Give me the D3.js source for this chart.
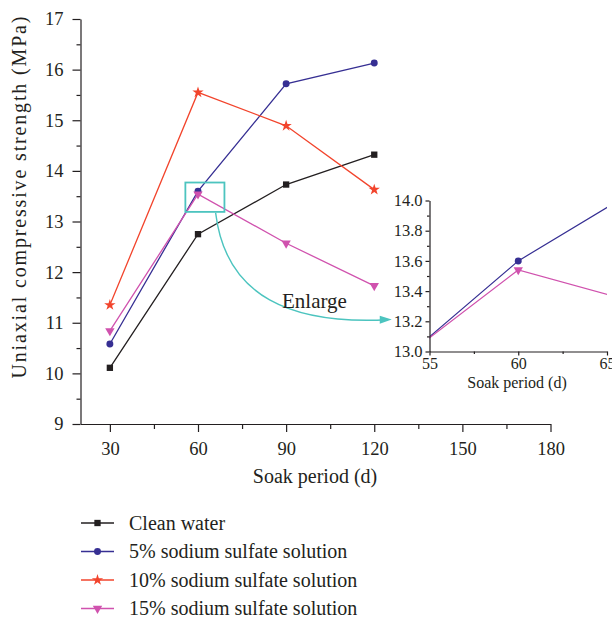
<!DOCTYPE html>
<html>
<head>
<meta charset="utf-8">
<script src="https://cdn.jsdelivr.net/npm/d3@7"></script>
<style>
  html, body { margin: 0; padding: 0; background: #fff; }
  svg { display: block; font-family: "Liberation Serif", "Times New Roman", serif; }
</style>
</head>
<body>
<svg id="chart" width="612" height="619"></svg>
<script>
// Soak periods (days) and strength values (MPa) per solution
const soakDays = [30, 60, 90, 120];
const cleanWater = [10.11, 12.75, 13.73, 14.32];
const sulfate5 = [10.58, 13.60, 15.72, 16.13];
const sulfate10 = [11.35, 15.55, 14.89, 13.63];
const sulfate15 = [10.84, 13.54, 12.57, 11.73];

const seriesNames = ["Clean water", "5% sodium sulfate solution", "10% sodium sulfate solution", "15% sodium sulfate solution"];
const seriesColors = ["#231f20", "#362f93", "#f2442c", "#d052ae"];

const xMajorTicks = [30, 60, 90, 120, 150, 180];
const xMinorTicks = [45, 75, 105, 135, 165];
const yMajorTicks = [9, 10, 11, 12, 13, 14, 15, 16, 17];
const yMinorTicks = [9.5, 10.5, 11.5, 12.5, 13.5, 14.5, 15.5, 16.5];

const insetXMajor = [55, 60, 65];
const insetXMinor = [57.5, 62.5];
const insetYMajor = [13.0, 13.2, 13.4, 13.6, 13.8, 14.0];
const insetYMinor = [13.1, 13.3, 13.5, 13.7, 13.9];

const seriesValues = [cleanWater, sulfate5, sulfate10, sulfate15];
const series = seriesNames.map((name, i) => ({
  name, color: seriesColors[i],
  points: soakDays.map((d, j) => ({ x: d, y: seriesValues[i][j] }))
}));

const ink = "#231f20";
const svg = d3.select("#chart");

// Main scales
const x = d3.scaleLinear().domain([20, 180]).range([80.5, 550.5]);
const y = d3.scaleLinear().domain([9, 17]).range([424, 19]);

// Marker shapes
const symbolFor = [
  d3.symbol().type(d3.symbolSquare).size(40),
  d3.symbol().type(d3.symbolCircle).size(38),
  d3.symbol().type(d3.symbolStar).size(40),
  d3.symbol().type(d3.symbolTriangle).size(38)
];
const rot = i => (i === 3 ? " rotate(180)" : "");

function styleAxis(g, fontSize) {
  g.select(".domain").attr("stroke", ink).attr("stroke-width", 1.2);
  g.selectAll(".tick line").attr("stroke", ink).attr("stroke-width", 1.2);
  g.selectAll(".tick text").attr("fill", ink).attr("font-size", fontSize)
    .attr("font-family", "Liberation Serif, serif");
}

// ---- Main axes ----
const xAxisG = svg.append("g").attr("transform", "translate(0,424)")
  .call(d3.axisBottom(x).tickValues(xMajorTicks).tickSize(8).tickSizeOuter(0).tickPadding(10));
styleAxis(xAxisG, 18.5);
const xMinorG = svg.append("g").attr("transform", "translate(0,424)")
  .call(d3.axisBottom(x).tickValues(xMinorTicks).tickSize(5).tickFormat(""));
xMinorG.select(".domain").remove();
styleAxis(xMinorG, 18);

const yAxisG = svg.append("g").attr("transform", "translate(80.5,0)")
  .call(d3.axisLeft(y).tickValues(yMajorTicks).tickSize(8).tickSizeOuter(0).tickPadding(9));
styleAxis(yAxisG, 18.5);
const yMinorG = svg.append("g").attr("transform", "translate(80.5,0)")
  .call(d3.axisLeft(y).tickValues(yMinorTicks).tickSize(4).tickFormat(""));
yMinorG.select(".domain").remove();
styleAxis(yMinorG, 18);

svg.append("text").attr("x", 315).attr("y", 483).attr("text-anchor", "middle")
  .attr("font-size", 20).attr("fill", ink).text("Soak period (d)");
svg.append("text").attr("transform", "translate(26,197.5) rotate(-90)")
  .attr("text-anchor", "middle").attr("font-size", 20).attr("fill", ink)
  .attr("textLength", 362).attr("lengthAdjust", "spacing")
  .text("Uniaxial compressive strength (MPa)");

// ---- Main series ----
const line = d3.line().x(d => x(d.x)).y(d => y(d.y));
series.forEach((s, i) => {
  svg.append("path").datum(s.points).attr("d", line)
    .attr("fill", "none").attr("stroke", s.color).attr("stroke-width", 1.3);
  svg.selectAll(null).data(s.points).enter().append("path")
    .attr("transform", d => `translate(${x(d.x)},${y(d.y)})` + rot(i))
    .attr("d", symbolFor[i]()).attr("fill", s.color);
});

// ---- Zoom box and curved arrow ----
const cyan = "#4cc4bf";
const box = { x0: 55.7, x1: 69.0, y0: 13.19, y1: 13.77 };
svg.append("rect")
  .attr("x", x(box.x0)).attr("y", y(box.y1))
  .attr("width", x(box.x1) - x(box.x0)).attr("height", y(box.y0) - y(box.y1))
  .attr("fill", "none").attr("stroke", cyan).attr("stroke-width", 1.8);

const arrowPts = { start: [66.0, 13.17], c1: [69.5, 11.5], c2: [92, 10.96], end: [124.6, 11.06] };
const p = d3.path();
p.moveTo(x(arrowPts.start[0]), y(arrowPts.start[1]));
p.bezierCurveTo(x(arrowPts.c1[0]), y(arrowPts.c1[1]), x(arrowPts.c2[0]), y(arrowPts.c2[1]),
  x(arrowPts.end[0]), y(arrowPts.end[1]));
svg.append("path").attr("d", p.toString()).attr("fill", "none")
  .attr("stroke", cyan).attr("stroke-width", 1.4);
// arrowhead
const ex = x(arrowPts.end[0]), ey = y(arrowPts.end[1]);
svg.append("path")
  .attr("d", `M${ex - 8},${ey - 4} L${ex + 4},${ey - 0.3} L${ex - 8},${ey + 4} Z`)
  .attr("fill", cyan);

svg.append("text").attr("x", 282).attr("y", 308).attr("font-size", 21)
  .attr("fill", ink).text("Enlarge");

// ---- Inset ----
const xi = d3.scaleLinear().domain([55, 65]).range([429.5, 607]);
const yi = d3.scaleLinear().domain([13, 14]).range([351.5, 200.5]);

svg.append("defs").append("clipPath").attr("id", "insetClip")
  .append("rect").attr("x", xi(55)).attr("y", yi(14))
  .attr("width", xi(65) - xi(55)).attr("height", yi(13) - yi(14));

const insetLine = d3.line().x(d => xi(d.x)).y(d => yi(d.y));
const insetG = svg.append("g").attr("clip-path", "url(#insetClip)");
[1, 3].forEach(i => {
  const s = series[i];
  insetG.append("path").datum(s.points).attr("d", insetLine)
    .attr("fill", "none").attr("stroke", s.color).attr("stroke-width", 1.2);
  insetG.selectAll(null).data(s.points.filter(d => d.x >= 55 && d.x <= 65)).enter().append("path")
    .attr("transform", d => `translate(${xi(d.x)},${yi(d.y)})` + rot(i))
    .attr("d", symbolFor[i]()).attr("fill", s.color);
});

const ixAxis = svg.append("g").attr("transform", `translate(0,${yi(13)})`)
  .call(d3.axisBottom(xi).tickValues(insetXMajor).tickSize(4).tickSizeOuter(0).tickPadding(2));
styleAxis(ixAxis, 16);
const ixMinor = svg.append("g").attr("transform", `translate(0,${yi(13)})`)
  .call(d3.axisBottom(xi).tickValues(insetXMinor).tickSize(2.5).tickFormat(""));
ixMinor.select(".domain").remove();
styleAxis(ixMinor, 16);

const iyAxis = svg.append("g").attr("transform", `translate(${xi(55)},0)`)
  .call(d3.axisLeft(yi).tickValues(insetYMajor).tickSize(4).tickSizeOuter(0).tickPadding(3)
    .tickFormat(d3.format(".1f")));
styleAxis(iyAxis, 16.5);
const iyMinor = svg.append("g").attr("transform", `translate(${xi(55)},0)`)
  .call(d3.axisLeft(yi).tickValues(insetYMinor).tickSize(2.5).tickFormat(""));
iyMinor.select(".domain").remove();
styleAxis(iyMinor, 16);

svg.append("text").attr("x", 517).attr("y", 388).attr("text-anchor", "middle")
  .attr("font-size", 16).attr("fill", ink).text("Soak period (d)");

// ---- Legend ----
const legendRows = [523, 551.5, 580, 608.5];
series.forEach((s, i) => {
  const ly = legendRows[i];
  svg.append("line").attr("x1", 81).attr("x2", 114).attr("y1", ly).attr("y2", ly)
    .attr("stroke", s.color).attr("stroke-width", 1.4);
  svg.append("path").attr("transform", `translate(97.5,${ly})` + rot(i))
    .attr("d", symbolFor[i]()).attr("fill", s.color);
  svg.append("text").attr("x", 129).attr("y", ly).attr("dy", "0.33em")
    .attr("font-size", 20).attr("fill", ink).text(s.name);
});
</script>
</body>
</html>
